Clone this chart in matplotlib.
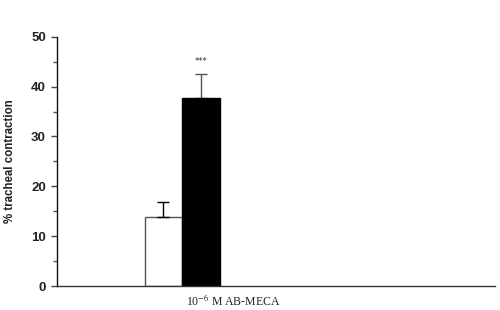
import matplotlib
matplotlib.use("Agg")
import matplotlib.pyplot as plt
from matplotlib.ticker import MultipleLocator
from matplotlib.transforms import ScaledTranslation

plt.rcParams["mathtext.fontset"] = "stix"

# ----------------------------
# DATA
# ----------------------------
groups = ["10$^{-6}$ M AB-MECA"]
control_vals = [13.8]
control_err = [3.0]
treated_vals = [37.8]
treated_err = [4.7]
signif = ["***"]

# ----------------------------
# FIGURE
# ----------------------------
fig = plt.figure(figsize=(5.0, 3.1), dpi=100)
ax = fig.add_axes([0.114, 0.0774, 0.876, 0.804])

width = 0.5
x = list(range(len(groups)))
x_ctrl = [xi - width / 2 for xi in x]
x_trt = [xi + width / 2 for xi in x]

ax.bar(x_ctrl, control_vals, width=width, color="white", edgecolor="#555555",
       linewidth=1.0, zorder=2)
ax.bar(x_trt, treated_vals, width=width, color="black", edgecolor="black",
       linewidth=1.0, zorder=2)

# upper error bars only
ax.errorbar(x_ctrl, control_vals, yerr=[[0] * len(x), control_err], fmt="none",
            ecolor="black", elinewidth=1.0, capsize=4, capthick=1.0, zorder=3)
ax.errorbar(x_trt, treated_vals, yerr=[[0] * len(x), treated_err], fmt="none",
            ecolor="#555555", elinewidth=1.0, capsize=4, capthick=1.0, zorder=1)

for xi, v, e, s in zip(x_trt, treated_vals, treated_err, signif):
    ax.annotate(s, (xi, v + e), xytext=(0, 6), textcoords="offset points",
                ha="center", va="bottom", fontsize=6, color="#333333")

# ----------------------------
# AXES STYLE
# ----------------------------
ax.set_xlim(-1.667, 4.173)
ax.set_ylim(0, 50)

ax.spines["top"].set_visible(False)
ax.spines["right"].set_visible(False)
ax.spines["left"].set_color("#111111")
ax.spines["bottom"].set_color("#333333")
for sp in ("left", "bottom"):
    ax.spines[sp].set_linewidth(1.0)

ax.yaxis.set_major_locator(MultipleLocator(10))
ax.yaxis.set_minor_locator(MultipleLocator(5))
ax.tick_params(axis="y", which="major", length=4, width=1.0, color="#444444",
               pad=4, labelsize=9.5, labelcolor="#222222")
ax.tick_params(axis="y", which="minor", length=3, width=1.0, color="#555555")
for lab in ax.get_yticklabels():
    lab.set_fontweight("bold")
    lab.set_family("Liberation Sans")

ax.set_xticks(x)
ax.set_xticklabels(groups, family="Liberation Serif", fontsize=8.5, color="#222222")
ax.tick_params(axis="x", length=0, pad=5)
offset = ScaledTranslation(0.51, 0, fig.dpi_scale_trans)
for lab in ax.get_xticklabels():
    lab.set_transform(lab.get_transform() + offset)

ax.set_ylabel("% tracheal contraction", family="Liberation Sans", fontsize=8.3,
              fontweight="bold", color="#222222", labelpad=10.5)

fig.savefig("out.png", dpi=100)
